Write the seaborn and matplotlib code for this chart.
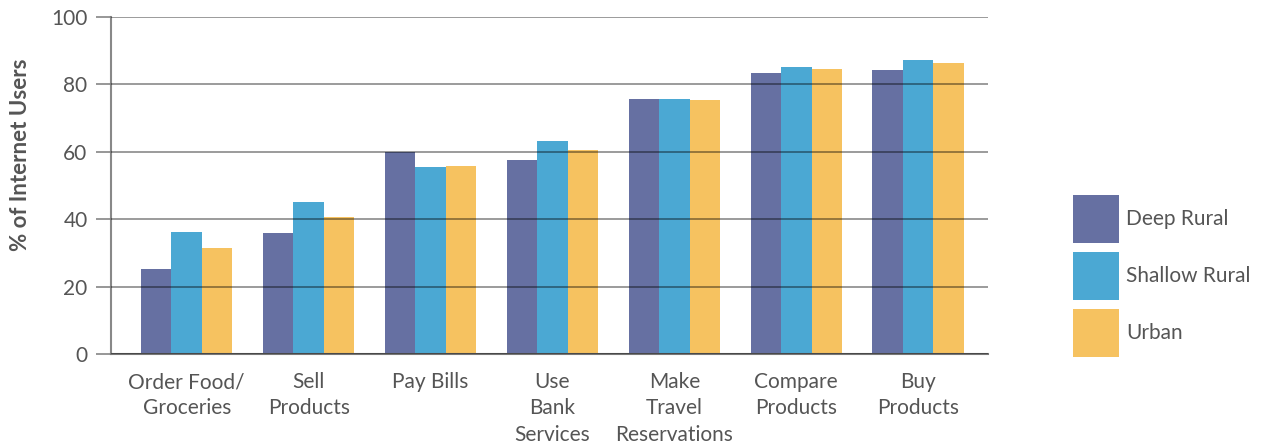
import numpy as np
import pandas as pd
import matplotlib.pyplot as plt
import seaborn as sns
from matplotlib.patches import Patch

categories = ['Order Food/\nGroceries', 'Sell\nProducts', 'Pay Bills', 'Use\nBank\nServices',
              'Make\nTravel\nReservations', 'Compare\nProducts', 'Buy\nProducts']
deep_rural = [25.2, 35.9, 59.9, 57.6, 75.7, 83.4, 84.3]
shallow_rural = [36.2, 45.1, 55.5, 63.2, 75.7, 85.2, 87.2]
urban = [31.5, 40.7, 55.8, 60.5, 75.4, 84.6, 86.4]
groups = ['Deep Rural', 'Shallow Rural', 'Urban']
colors = ['#6670A2', '#4BA8D3', '#F6C260']

df = pd.DataFrame({
    'category': categories * 3,
    'group': [g for g in groups for _ in categories],
    'value': deep_rural + shallow_rural + urban,
})

sns.set_theme(style='white')
plt.rcParams['font.family'] = ['Lato', 'DejaVu Sans']
text_col = '#555555'

fig = plt.figure(figsize=(12.63, 4.43), dpi=100)
ax = fig.add_axes([0.088, 0.201, 0.694, 0.761])

sns.barplot(data=df, x='category', y='value', hue='group', palette=colors,
            width=0.75, saturation=1, linewidth=0, legend=False, ax=ax, zorder=2)

ax.set_ylim(0, 100)
ax.set_xlim(-0.62, 6.57)
ax.set_yticks(range(0, 101, 20))
# grid drawn over the bars, semi-transparent so it shows through like the original
ax.set_axisbelow(False)
ax.yaxis.grid(True, color='black', alpha=0.5, linewidth=1.1)
for s in ['top', 'right']:
    ax.spines[s].set_visible(False)
ax.spines['left'].set_color('#888888')
ax.spines['left'].set_linewidth(1.5)
ax.spines['bottom'].set_color('#777777')
ax.spines['bottom'].set_linewidth(1.5)
ax.tick_params(axis='y', length=11, color='#7a7a7a', width=1.1, labelsize=15,
               labelcolor=text_col, pad=6, left=True)
ax.tick_params(axis='x', length=0, labelsize=15, labelcolor=text_col, pad=13)
for lbl in ax.get_xticklabels():
    lbl.set_linespacing(1.4)
ax.set_xlabel('')
ax.set_ylabel('% of Internet Users', fontsize=16, fontweight='bold', color=text_col)
ax.yaxis.set_label_coords(-0.091, 0.59)

handles = [Patch(facecolor=c, edgecolor='none') for c in colors]
fig.legend(handles, groups, loc='center left', bbox_to_anchor=(0.835, 0.377),
           frameon=False, fontsize=15, handlelength=2.2, handleheight=3.2,
           labelspacing=0.4, handletextpad=0.35, borderpad=0.4, labelcolor=text_col)

fig.savefig('out.png', dpi=100)
